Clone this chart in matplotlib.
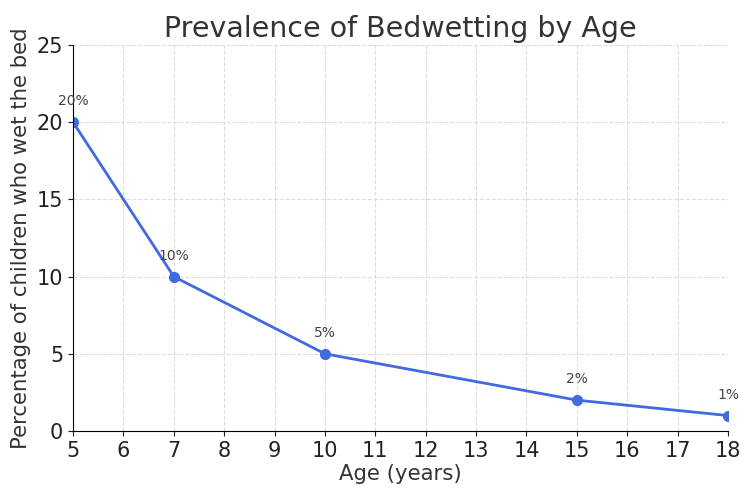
import matplotlib.pyplot as plt

ages = [5, 7, 10, 15, 18]
percent = [20, 10, 5, 2, 1]
labels = ["20%", "10%", "5%", "2%", "1%"]

fig = plt.figure(figsize=(7.56, 4.94), dpi=100)
ax = fig.add_axes([0.0966, 0.1275, 0.8664, 0.7815])

ax.plot(ages, percent, marker="o", color="royalblue", linewidth=2, markersize=7)
for x, y, t in zip(ages, percent, labels):
    ax.annotate(t, (x, y), textcoords="offset points", xytext=(0, 12),
                ha="center", fontsize=10, color="#444444")

ax.set_xlim(5, 18)
ax.set_ylim(0, 25)
ax.set_xticks(range(5, 19))
ax.set_yticks(range(0, 26, 5))
ax.tick_params(labelsize=15, colors="#222222")
ax.grid(True, linestyle="--", color="#dddddd", linewidth=0.8)
ax.spines["top"].set_visible(False)
ax.spines["right"].set_visible(False)

ax.set_title("Prevalence of Bedwetting by Age", fontsize=20.5, color="#333333")
ax.set_xlabel("Age (years)", fontsize=15.3, color="#333333", labelpad=2)
ax.set_ylabel("Percentage of children who wet the bed", fontsize=15.3,
              color="#333333", labelpad=4)

plt.savefig("out.png", dpi=100)
